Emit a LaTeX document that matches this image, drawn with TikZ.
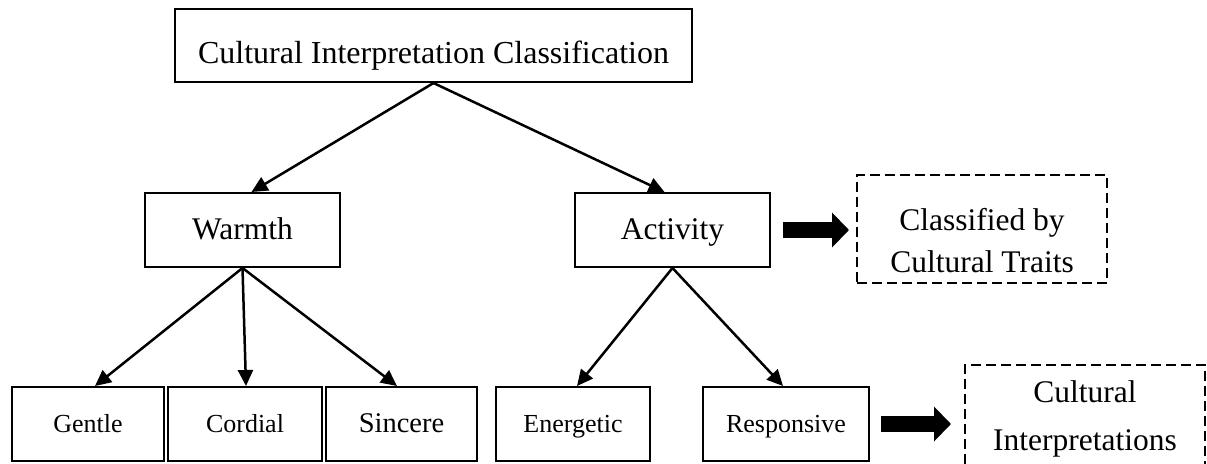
\documentclass[tikz,border=0pt]{standalone}
\usepackage{fontspec}
\setmainfont{Liberation Serif}
\usetikzlibrary{arrows.meta,calc}

\begin{document}
\begin{tikzpicture}[x=1pt,y=-1pt,
  box/.style={draw, line width=2pt, rectangle, inner sep=0pt, text depth=0pt},
  bigtext/.style={font=\fontsize{31.5}{38}\selectfont, text height=19.5pt},
  smalltext/.style={font=\fontsize{26}{31}\selectfont, text height=16pt},
  dbox/.style={draw, line width=2pt, dash pattern=on 10pt off 5pt,
    rectangle, inner sep=0pt},
  link/.style={line width=2.5pt, -{Triangle[length=16pt,width=15pt]}},
  fatarrow/.style={line width=#1, -{Triangle[length=1.05*#1,width=2.1*#1]}}
]
\clip (0,0) rectangle (1207,463);

% top level
\node[box, font=\fontsize{32}{38}\selectfont, text height=35pt,
      minimum width=517pt, minimum height=73pt] (root) at (433.5,45.5)
  {Cultural Interpretation Classification};

% second level
\node[box, bigtext, minimum width=195pt, minimum height=74pt] (warm) at (242.5,230) {Warmth};
\node[box, bigtext, minimum width=195pt, minimum height=74pt] (act) at (672.5,230) {Activity};

\node[dbox, minimum width=250pt, minimum height=108pt] (trait) at (982,229) {};
\node[align=center, inner sep=0pt, font=\fontsize{31.5}{42}\selectfont]
  (traittext) at ($(trait.center)+(0,12)$) {Classified by\\Cultural Traits};

% third level
\node[box, smalltext, minimum width=152pt, minimum height=74pt] (gentle) at (88,424) {Gentle};
\node[box, smalltext, minimum width=154pt, minimum height=74pt] (cordial) at (245,424) {Cordial};
\node[box, font=\fontsize{28.5}{34}\selectfont, text height=17.5pt,
      minimum width=151pt, minimum height=74pt] (sincere) at (401.5,424) {Sincere};
\node[box, smalltext, minimum width=154pt, minimum height=74pt] (energ) at (573,424) {Energetic};
\node[box, smalltext, minimum width=166pt, minimum height=74pt] (resp) at (786,424) {Responsive};

\node[dbox, minimum width=240pt, minimum height=106pt] (interp) at (1085,418) {};
\node[align=center, inner sep=0pt, font=\fontsize{31.5}{48}\selectfont]
  (interptext) at ($(interp.center)+(0,1)$) {Cultural\\Interpretations};

% connectors
\draw[link] (root.south) -- ([xshift=9pt]warm.north);
\draw[link] (root.south) -- ([xshift=-8pt]act.north);

\draw[link] (warm.south) -- ([xshift=7pt]gentle.north);
\draw[link] (warm.south) -- ([xshift=1pt]cordial.north);
\draw[link] (warm.south) -- ([xshift=-4.5pt]sincere.north);

\draw[link] (act.south) -- ([xshift=4pt]energ.north);
\draw[link] (act.south) -- ([xshift=-3pt]resp.north);

% block arrows
\draw[fatarrow=16pt] ([xshift=12pt]act.east) -- ($(act.east -| trait.west)+(-7pt,0)$);
\draw[fatarrow=16pt] ([xshift=11pt]resp.east) -- ($(resp.east -| interp.west)+(-13pt,0)$);
\end{tikzpicture}
\end{document}
